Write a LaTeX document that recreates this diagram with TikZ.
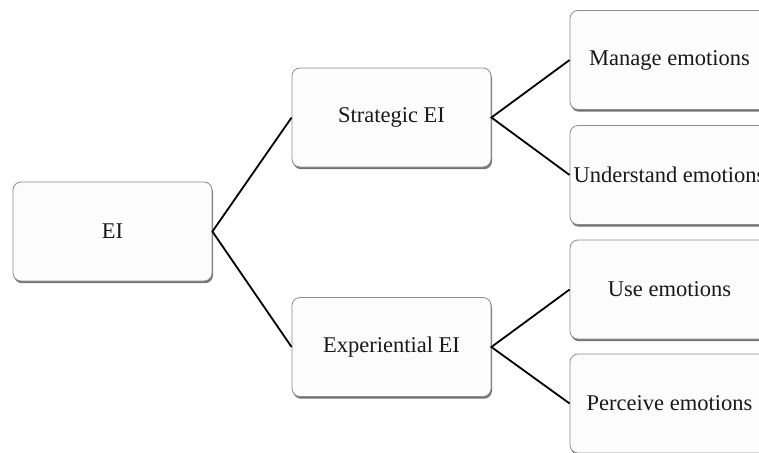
\documentclass[tikz,border=0pt]{standalone}
\usepackage{fontspec}
\setmainfont{Liberation Serif}
\begin{document}
\begin{tikzpicture}[x=1pt,y=-1pt,
  box/.style={draw=black!45, line width=0.8pt, fill=black!1, rounded corners=8pt,
    minimum width=199pt, minimum height=99pt, inner sep=0pt,
    font=\fontsize{22.5}{25}\selectfont, text=black!90,
    preaction={draw=none, fill=black!55, rounded corners=8pt, transform canvas={shift={(1pt,-2.2pt)}}}},
  link/.style={draw=black, line width=1.8pt}]
\useasboundingbox (0,0) rectangle (759,452);
\clip (0,0) rectangle (759,452);
% root
\node[box] (ei) at (112.5,231.5) {EI};
% branches
\node[box] (strat) at (391.5,117.5) {Strategic EI};
\node[box] (exp) at (391.5,347) {Experiential EI};
% leaves
\node[box] (manage) at (669.5,60) {Manage emotions};
\node[box] (underst) at (669.5,175) {Understand emotions};
\node[box] (use) at (669.5,289.5) {Use emotions};
\node[box] (perc) at (669.5,403.5) {Perceive emotions};
% connectors
\draw[link] (strat.west) -- (ei.east) -- (exp.west);
\draw[link] (manage.west) -- (strat.east) -- (underst.west);
\draw[link] (use.west) -- (exp.east) -- (perc.west);
\end{tikzpicture}
\end{document}
